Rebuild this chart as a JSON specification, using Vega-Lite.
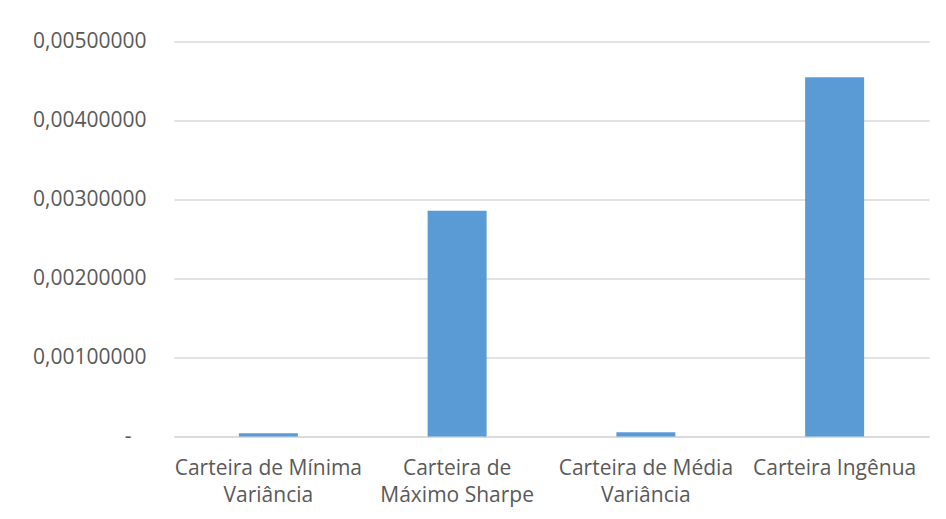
{
  "$schema": "https://vega.github.io/schema/vega-lite/v6.json",
  "autosize": {"type": "none"},
  "padding": {"left": 174, "top": 41.5, "right": 17, "bottom": 82.5},
  "width": 755,
  "height": 395,
  "background": "white",
  "config": {
    "view": {"stroke": null},
    "font": "Open Sans"
  },
  "data": {
    "values": [
      {"carteira": "Carteira de Mínima\nVariância", "valor": 0.00004},
      {"carteira": "Carteira de\nMáximo Sharpe", "valor": 0.002858},
      {"carteira": "Carteira de Média\nVariância", "valor": 0.000053},
      {"carteira": "Carteira Ingênua", "valor": 0.004547}
    ]
  },
  "mark": {"type": "bar", "color": "#5b9bd5", "width": {"band": 0.3125}},
  "encoding": {
    "x": {
      "field": "carteira",
      "type": "nominal",
      "sort": null,
      "scale": {"paddingInner": 0, "paddingOuter": 0},
      "axis": {
        "title": null,
        "labelAngle": 0,
        "labelExpr": "split(datum.label, '\\n')",
        "labelFont": "Open Sans",
        "labelFontSize": 21,
        "labelColor": "#595959",
        "labelLineHeight": 27,
        "labelPadding": 21,
        "ticks": false,
        "domain": true,
        "domainColor": "#d9d9d9",
        "domainWidth": 1.5,
        "labelLimit": 300
      }
    },
    "y": {
      "field": "valor",
      "type": "quantitative",
      "scale": {"domain": [0, 0.005], "nice": false},
      "axis": {
        "title": null,
        "values": [0, 0.001, 0.002, 0.003, 0.004, 0.005],
        "labelExpr": "datum.value == 0 ? '-\u2800' : replace(format(datum.value, '.8f'), '.', ',')",
        "labelFont": "Open Sans",
        "labelFontSize": 21,
        "labelColor": "#595959",
        "labelPadding": 28,
        "ticks": false,
        "domain": false,
        "grid": true,
        "gridColor": "#d9d9d9",
        "gridWidth": 1.5
      }
    }
  }
}
